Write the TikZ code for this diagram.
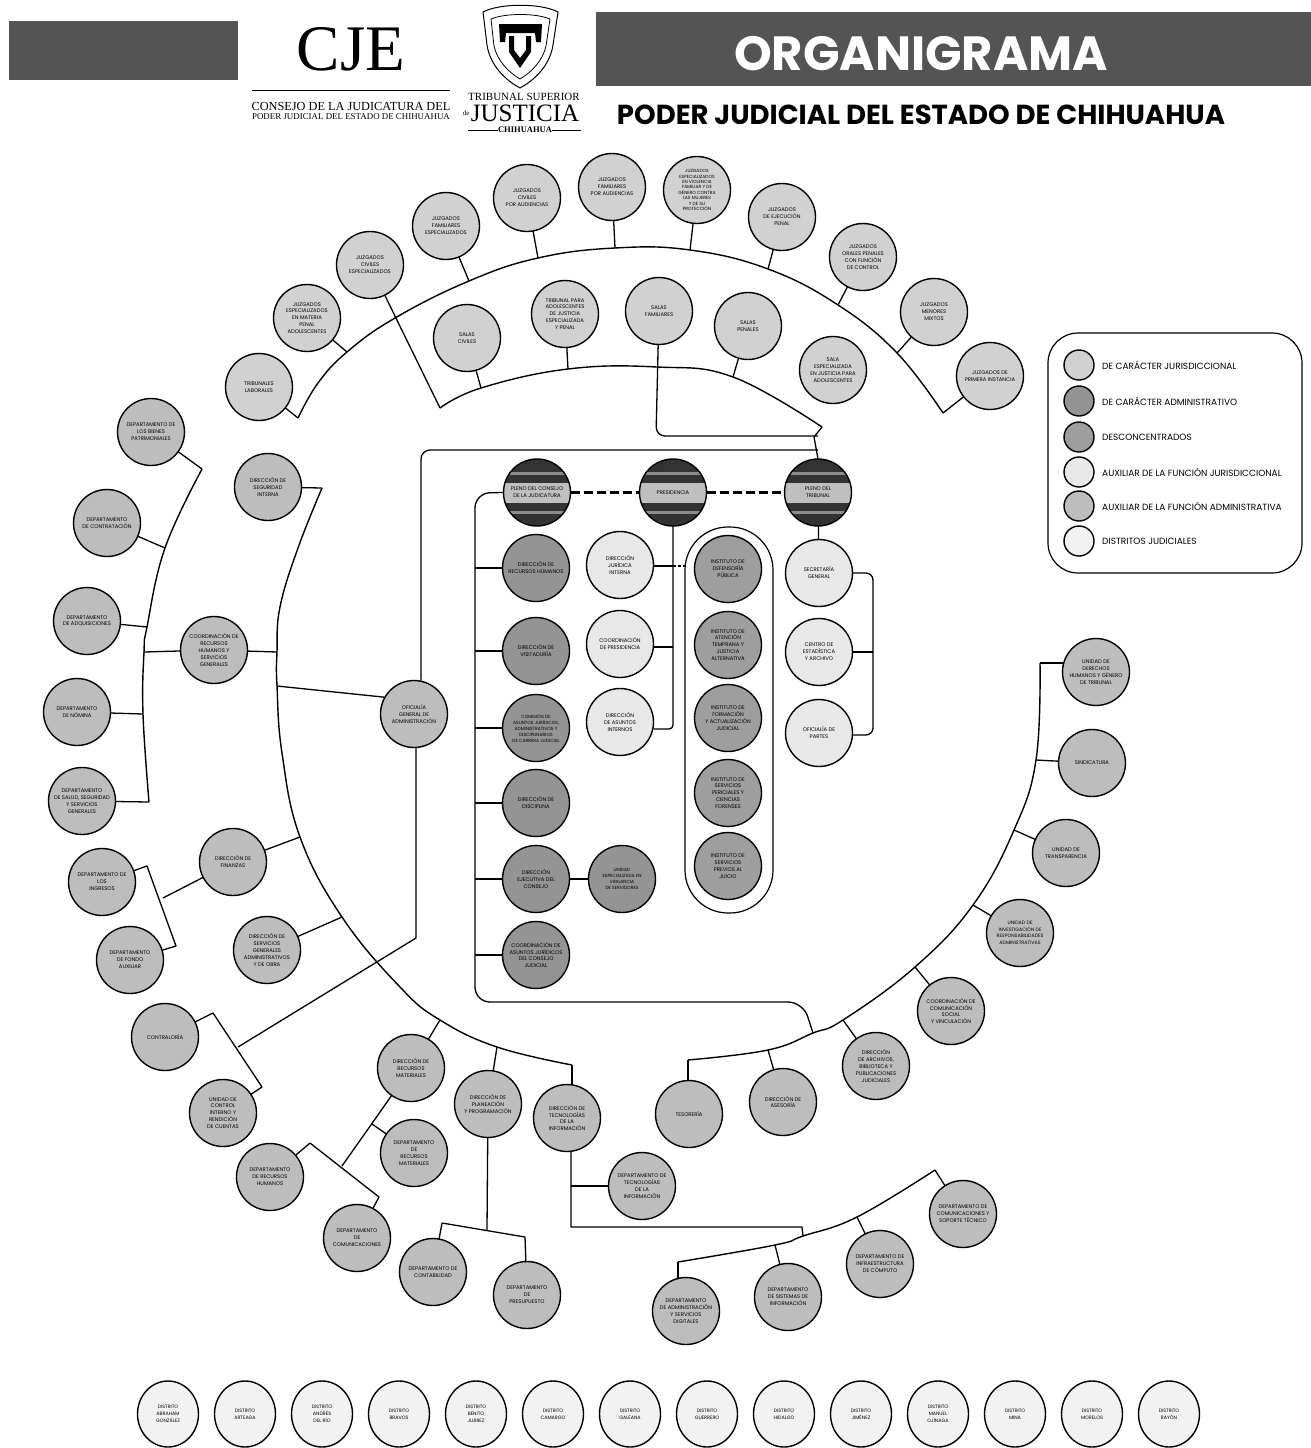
\documentclass[tikz,border=0pt]{standalone}
\usepackage{fontspec}
\setmainfont{Poppins}
\newfontfamily\logoserif{Liberation Serif}
\usepackage{tikz}
\usetikzlibrary{positioning, shapes.geometric}
\usepackage{xcolor}
\definecolor{BannerGray}{gray}{0.33}
\definecolor{JurisGray}{gray}{0.82}
\definecolor{AdminGray}{gray}{0.58}
\definecolor{DeconGray}{gray}{0.62}
\definecolor{AuxJurisGray}{gray}{0.91}
\definecolor{AuxAdminGray}{gray}{0.74}
\definecolor{DistritoGray}{gray}{0.95}
\definecolor{HeadDark}{gray}{0.2}
\tikzset{%
  org_circle/.style={%
    circle,%
    draw=black,%
    line width=1.4pt,%
    minimum size=67pt,%
    inner sep=0pt,%
    outer sep=0pt,%
    font={\fontsize{5.3}{6.9}\selectfont},%
    align=center,%
  },
  juris/.style={org_circle, fill=JurisGray},
  admin/.style={org_circle, fill=AdminGray},
  decon/.style={org_circle, fill=DeconGray},
  aux_juris/.style={org_circle, fill=AuxJurisGray},
  aux_admin/.style={org_circle, fill=AuxAdminGray},
  distrito/.style={%
    org_circle,%
    ellipse,%
    fill=DistritoGray,%
    minimum width=61pt,%
    minimum height=66pt,%
    font={\fontsize{4.8}{7}\selectfont},%
  },
  head/.style={%
    org_circle,%
    fill=HeadDark,%
    path picture={%
      \fill [white!75!black] (path picture bounding box.west) ++(0,10) rectangle ++(67,-20);
      \fill [white!55!black] (path picture bounding box.west) ++(0,21) rectangle ++(67,-3);
      \fill [white!55!black] (path picture bounding box.west) ++(0,-18) rectangle ++(67,-3);
    },%
  },
  legend_dot/.style={org_circle, minimum size=30pt},
  legend_text/.style={font={\fontsize{9}{10}\selectfont}, anchor=west, inner sep=0pt},
  org_path/.style={%
    color=black,%
    line join=round,%
    line width=1.3pt,%
  },
  org_bus/.style={org_path, line width=1.4pt},
  org_round/.style={org_path, rounded corners=9pt},
}
\begin{document}
\begin{tikzpicture}[x=1pt, y=1pt]
    \useasboundingbox (0,0) rectangle (1311,-1448);

    % header
    \fill [BannerGray] (9,-21) rectangle (238,-80);
    \fill [BannerGray] (596,-12) rectangle (1311,-86);
    \node [inner sep=0pt, text=white, font={\fontsize{48}{50}\selectfont\bfseries}] (Titulo) at (921,-54) {ORGANIGRAMA};
    \node [font={\fontsize{27.5}{30}\selectfont\bfseries}, inner sep=0pt] (Poder) at (921,-115)
      {PODER JUDICIAL DEL ESTADO DE CHIHUAHUA};
    \node [font={\logoserif\fontsize{65}{65}\selectfont}, inner sep=0pt] (CJE) at (351,-49) {CJE};
    \draw [line width=0.6pt] (252,-90) -- (450,-90);
    \node [font={\logoserif\fontsize{12.3}{14}\selectfont}, inner sep=0pt] (CJEa) at (351,-106)
      {CONSEJO DE LA JUDICATURA DEL};
    \node [font={\logoserif\fontsize{8.9}{10}\selectfont}, inner sep=0pt] (CJEb) at (351,-117)
      {PODER JUDICIAL DEL ESTADO DE CHIHUAHUA};
    \node [font={\logoserif\fontsize{11}{12}\selectfont}, inner sep=0pt] (TSJa) at (524,-97)
      {TRIBUNAL SUPERIOR};
    \node [font={\logoserif\fontsize{25}{26}\selectfont}, inner sep=0pt] (TSJb) at (525,-113) {JUSTICIA};
    \node [font={\logoserif\fontsize{7}{8}\selectfont}, inner sep=0pt, left=1 of TSJb] (TSJde) {de};
    \node [font={\logoserif\bfseries\fontsize{8.5}{9}\selectfont}, inner sep=0pt] (TSJc) at (525,-130) {CHIHUAHUA};
    \draw [line width=0.7pt] (468,-130) -- (TSJc.west);
    \draw [line width=0.7pt] (TSJc.east) -- (581,-130);

    % shield
    \draw [line width=1pt, fill=white]
      (483,-12) .. controls (500,-3) and (541,-3) .. (558,-12)
      -- (553,-45) .. controls (550,-65) and (535,-80) .. (520,-88)
      .. controls (505,-80) and (490,-65) .. (487,-45) -- cycle;
    \draw [line width=0.8pt]
      (491,-19) .. controls (505,-13) and (536,-13) .. (550,-19)
      -- (546,-46) .. controls (543,-60) and (532,-72) .. (520,-79)
      .. controls (508,-72) and (497,-60) .. (494,-46) -- cycle;
    \fill (499,-24) -- (542,-24) -- (541,-42) -- (536,-42) -- (535,-33) -- (506,-33) -- (505,-42) -- (500,-42) -- cycle;
    \fill (509,-36) -- (514,-36) -- (514,-50) -- (520,-58) -- (526,-50) -- (526,-36) -- (531,-36) -- (531,-52) -- (520,-68) -- (509,-52) -- cycle;

    % legend
    \draw [line width=1.2pt, rounded corners=30pt, fill=white] (1048,-333) rectangle (1302,-573);
    \node [legend_dot, fill=JurisGray] (LegJuris) at (1079,-365) {};
    \node [legend_text, right=8 of LegJuris] (LegJurisT) {DE CARÁCTER JURISDICCIONAL};
    \node [legend_dot, fill=AdminGray] (LegAdmin) at (1079,-401) {};
    \node [legend_text, right=8 of LegAdmin] (LegAdminT) {DE CARÁCTER ADMINISTRATIVO};
    \node [legend_dot, fill=DeconGray] (LegDecon) at (1079,-437) {};
    \node [legend_text, right=8 of LegDecon] (LegDeconT) {DESCONCENTRADOS};
    \node [legend_dot, fill=AuxJurisGray] (LegAuxJ) at (1079,-472) {};
    \node [legend_text, right=8 of LegAuxJ] (LegAuxJT) {AUXILIAR DE LA FUNCIÓN JURISDICCIONAL};
    \node [legend_dot, fill=AuxAdminGray] (LegAuxA) at (1079,-506) {};
    \node [legend_text, right=8 of LegAuxA] (LegAuxAT) {AUXILIAR DE LA FUNCIÓN ADMINISTRATIVA};
    \node [legend_dot, fill=DistritoGray] (LegDist) at (1079,-541) {};
    \node [legend_text, right=8 of LegDist] (LegDistT) {DISTRITOS JUDICIALES};

    % jurisdictional ring
    \node [juris] (Tribunal) at (259,-387) {TRIBUNALES\\LABORALES};
    \node [juris] (JuzA) at (307,-318) {JUZGADOS\\ESPECIALIZADOS\\EN MATERIA\\PENAL\\ADOLESCENTES};
    \node [juris] (JuzB) at (370,-265) {JUZGADOS\\CIVILES\\ESPECIALIZADOS};
    \node [juris] (JuzC) at (446,-226) {JUZGADOS\\FAMILIARES\\ESPECIALIZADOS};
    \node [juris] (JuzD) at (527,-198) {JUZGADOS\\CIVILES\\POR AUDIENCIAS};
    \node [juris] (JuzE) at (612,-187) {JUZGADOS\\FAMILIARES\\POR AUDIENCIAS};
    \node [juris, font={\fontsize{4.5}{5.4}\selectfont}] (JuzF) at (697,-190)
      {JUZGADOS\\ESPECIALIZADOS\\EN VIOLENCIA\\FAMILIAR Y DE\\GÉNERO CONTRA\\LAS MUJERES\\Y DE SU\\PROTECCIÓN};
    \node [juris] (JuzG) at (782,-217) {JUZGADOS\\DE EJECUCIÓN\\PENAL};
    \node [juris] (JuzH) at (863,-257) {JUZGADOS\\ORALES PENALES\\CON FUNCIÓN\\DE CONTROL};
    \node [juris] (JuzI) at (934,-312) {JUZGADOS\\MENORES\\MIXTOS};
    \node [juris] (JuzJ) at (990,-376) {JUZGADOS DE\\PRIMERA INSTANCIA};
    \node [juris] (SalaA) at (467,-338) {SALAS\\CIVILES};
    \node [juris] (SalaB) at (565,-314) {TRIBUNAL PARA\\ADOLESCENTES\\DE JUSTICIA\\ESPECIALIZADA\\Y PENAL};
    \node [juris] (SalaC) at (659,-311) {SALAS\\FAMILIARES};
    \node [juris] (SalaD) at (748,-326) {SALAS\\PENALES};
    \node [juris] (SalaE) at (833,-370) {SALA\\ESPECIALIZADA\\EN JUSTICIA PARA\\ADOLESCENTES};

    \coordinate (OutEnd) at (298,-418);
    \coordinate (OutMid) at (318,-383);
    \coordinate (OutA) at (347,-352);
    \coordinate (OutCross) at (395,-318);
    \coordinate (OutC) at (469,-281);
    \coordinate (OutD) at (538,-258);
    \coordinate (OutE) at (615,-248);
    \coordinate (OutF) at (690,-250);
    \coordinate (OutG) at (768,-269);
    \coordinate (OutH) at (838,-305);
    \coordinate (OutI) at (897,-353);
    \coordinate (OutJ) at (943,-413);
    \draw [org_bus] plot [smooth, tension=0.7] coordinates
      {(OutEnd) (OutMid) (OutA) (OutCross) (OutC) (OutD) (OutE) (OutF) (OutG) (OutH) (OutI) (OutJ)};
    \draw [org_path] (Tribunal) -- (OutEnd);
    \draw [org_path] (JuzA) -- (OutA);
    \draw [org_path] (JuzC) -- (OutC);
    \draw [org_path] (JuzD) -- (OutD);
    \draw [org_path] (JuzE) -- (OutE);
    \draw [org_path] (JuzF) -- (OutF);
    \draw [org_path] (JuzG) -- (OutG);
    \draw [org_path] (JuzH) -- (OutH);
    \draw [org_path] (JuzI) -- (OutI);
    \draw [org_path] (JuzJ) -- (OutJ);

    \coordinate (InEnd) at (440,-408);
    \coordinate (InA) at (481,-388);
    \coordinate (InB) at (568,-369);
    \coordinate (InC) at (657,-367);
    \coordinate (InD) at (733,-377);
    \coordinate (InTip) at (822,-427);
    \coordinate (InJoin) at (814,-437);
    \draw [org_bus] plot [smooth, tension=0.7] coordinates {(InEnd) (InA) (InB) (InC) (InD) (InTip)};
    \draw [org_path] (InTip) -- (InJoin);
    \draw [org_path] (JuzB) -- (InEnd);
    \draw [org_path] (SalaA) -- (InA);
    \draw [org_path] (SalaB) -- (InB);
    \draw [org_path] (SalaD) -- (InD);

    % central heads
    \node [head] (HeadCJ) at (537,-492.5) {PLENO DEL CONSEJO\\DE LA JUDICATURA};
    \node [head] (HeadPres) at (673,-492.5) {PRESIDENCIA};
    \node [head] (HeadTSJ) at (818,-492.5) {PLENO DEL\\TRIBUNAL};
    \draw [org_path, line width=2.2pt, dash pattern=on 9pt off 4pt] (HeadCJ.east) -- (HeadPres.west);
    \draw [org_path, line width=2.2pt, dash pattern=on 9pt off 4pt] (HeadPres.east) -- (HeadTSJ.west);
    \coordinate (SalaDown) at (656,-436);
    \coordinate (TopJoin) at (818,-436);
    \draw [org_round] (SalaC) -- (SalaDown) -- (TopJoin);
    \draw [org_path] (InJoin) -- (HeadTSJ.north);

    % central columns
    \node [admin] (ColA1) at (536,-568) {DIRECCIÓN DE\\RECURSOS HUMANOS};
    \node [admin, below=16 of ColA1] (ColA2) {DIRECCIÓN DE\\VISITADURÍA};
    \node [admin, below=10 of ColA2, font={\fontsize{4.5}{6}\selectfont}] (ColA3)
      {COMISIÓN DE\\ASUNTOS JURÍDICOS,\\ADMINISTRATIVOS Y\\DISCIPLINARIOS\\DE CARRERA JUDICIAL};
    \node [admin, below=8 of ColA3] (ColA4) {DIRECCIÓN DE\\DISCIPLINA};
    \node [admin, below=9 of ColA4] (ColA5) {DIRECCIÓN\\EJECUTIVA DEL\\CONSEJO};
    \node [admin, below=9 of ColA5] (ColA6) {COORDINACIÓN DE\\ASUNTOS JURÍDICOS\\DEL CONSEJO\\JUDICIAL};
    \node [admin, right=19 of ColA5, font={\fontsize{4.5}{6}\selectfont}] (Unidad)
      {UNIDAD\\ESPECIALIZADA EN\\VIGILANCIA\\DE SERVIDORES};
    \node [aux_juris] (ColB1) at (620,-565) {DIRECCIÓN\\JURÍDICA\\INTERNA};
    \node [aux_juris, below=12 of ColB1] (ColB2) {COORDINACIÓN\\DE PRESIDENCIA};
    \node [aux_juris, below=11 of ColB2] (ColB3) {DIRECCIÓN\\DE ASUNTOS\\INTERNOS};
    \node [decon] (Pill1) at (728,-569) {INSTITUTO DE\\DEFENSORÍA\\PÚBLICA};
    \node [decon, below=9 of Pill1] (Pill2) {INSTITUTO DE\\ATENCIÓN\\TEMPRANA Y\\JUSTICIA\\ALTERNATIVA};
    \node [decon, below=6 of Pill2] (Pill3) {INSTITUTO DE\\FORMACIÓN\\Y ACTUALIZACIÓN\\JUDICIAL};
    \node [decon, below=8 of Pill3] (Pill4) {INSTITUTO DE\\SERVICIOS\\PERICIALES Y\\CIENCIAS\\FORENSES};
    \node [decon, below=6 of Pill4] (Pill5) {INSTITUTO DE\\SERVICIOS\\PREVIOS AL\\JUICIO};
    \draw [line width=1.2pt, rounded corners=43pt] (685,-527) rectangle (773,-913);
    \node [aux_juris] (ColD1) at (819,-573) {SECRETARÍA\\GENERAL};
    \node [aux_juris, below=12 of ColD1] (ColD2) {CENTRO DE\\ESTADÍSTICA\\Y ARCHIVO};
    \node [aux_juris, below=14 of ColD2] (ColD3) {OFICIALÍA DE\\PARTES};

    \coordinate (RailTop) at (475,-493);
    \coordinate (RailBottom) at (475,-1002);
    \coordinate (RailRight) at (803,-1002);
    \coordinate (BusRail) at (813,-1033);
    \draw [org_path, rounded corners=15pt] (HeadCJ.west) -- (RailTop) -- (RailBottom) -- (RailRight) -- (BusRail);
    \draw [org_path] (ColA1) -- (ColA1 -| RailTop);
    \draw [org_path] (ColA2) -- (ColA2 -| RailTop);
    \draw [org_path] (ColA3) -- (ColA3 -| RailTop);
    \draw [org_path] (ColA4) -- (ColA4 -| RailTop);
    \draw [org_path] (ColA5) -- (ColA5 -| RailTop);
    \draw [org_path] (ColA6) -- (ColA6 -| RailTop);
    \draw [org_path] (ColA5) -- (Unidad);

    \coordinate (PresDown) at (673,-729);
    \draw [org_path, rounded corners=4pt] (HeadPres) -- (PresDown) -- (ColB3.east |- PresDown);
    \coordinate (PresB1) at (673,-566);
    \coordinate (PresB2) at (673,-647);
    \coordinate (PillEdge) at (685,-566);
    \draw [org_path] (ColB1.east |- PresB1) -- (PresB1);
    \draw [org_path, dash pattern=on 3pt off 2pt] (PresB1) -- (PillEdge);
    \draw [org_path] (ColB2.east |- PresB2) -- (PresB2);

    \coordinate (TsjRailTop) at (873,-573);
    \coordinate (TsjRailBottom) at (873,-735);
    \draw [org_path] (HeadTSJ) -- (ColD1);
    \draw [org_path, rounded corners=7pt] (ColD1.east) -- (TsjRailTop) -- (TsjRailBottom) -- (ColD3.east |- TsjRailBottom);
    \draw [org_path] (ColD2.east) -- (ColD2 -| TsjRailTop);

    % general office
    \node [aux_admin] (Oficialia) at (414,-714) {OFICIALÍA\\GENERAL DE\\ADMINISTRACIÓN};
    \coordinate (OfUpA) at (421,-450);
    \coordinate (OfUpB) at (818,-450);
    \draw [org_round] (OfUpA |- Oficialia.north) -- (OfUpA) -- (OfUpB);
    \coordinate (OfDown) at (416,-938);
    \coordinate (DiagEnd) at (238,-1047);
    \draw [org_path] (OfDown |- Oficialia.south) -- (OfDown) -- (DiagEnd);

    % left arc
    \coordinate (ArcTick) at (322,-488);
    \coordinate (ArcAa) at (298,-548);
    \coordinate (ArcA) at (280,-607);
    \coordinate (ArcB) at (277,-652);
    \coordinate (ArcC) at (277,-686);
    \coordinate (ArcD) at (282,-753);
    \coordinate (ArcE) at (300,-837);
    \coordinate (ArcF) at (342,-917);
    \coordinate (ArcG) at (400,-987);
    \coordinate (ArcH) at (440,-1020);
    \coordinate (ArcI) at (497,-1047);
    \coordinate (ArcJ) at (572,-1065);
    \draw [org_bus] plot [smooth, tension=0.7] coordinates
      {(ArcTick) (ArcAa) (ArcA) (ArcB) (ArcC) (ArcD) (ArcE) (ArcF) (ArcG) (ArcH) (ArcI) (ArcJ)};
    \draw [org_path] (ArcC) -- (Oficialia.150);

    \node [aux_admin] (Interna) at (268,-487) {DIRECCIÓN DE\\SEGURIDAD\\INTERNA};
    \node [aux_admin] (Depto) at (214,-650) {COORDINACIÓN DE\\RECURSOS\\HUMANOS Y\\SERVICIOS\\GENERALES};
    \node [aux_admin] (LeftA) at (151,-432) {DEPARTAMENTO DE\\LOS BIENES\\PATRIMONIALES};
    \node [aux_admin] (LeftB) at (107,-523) {DEPARTAMENTO\\DE CONTRATACIÓN};
    \node [aux_admin] (LeftC) at (87,-621) {DEPARTAMENTO\\DE ADQUISICIONES};
    \node [aux_admin] (LeftD) at (77,-712) {DEPARTAMENTO\\DE NÓMINA};
    \node [aux_admin] (LeftE) at (82,-801) {DEPARTAMENTO\\DE SALUD, SEGURIDAD\\Y SERVICIOS\\GENERALES};
    \draw [org_path] (Interna) -- (ArcTick);
    \draw [org_path] (Depto) -- (ArcB);

    \coordinate (SubTop) at (202,-469);
    \coordinate (SubB) at (165,-548);
    \coordinate (SubC) at (147,-627);
    \coordinate (SubMid) at (144,-652);
    \coordinate (SubD) at (143,-714);
    \coordinate (SubE) at (149,-802);
    \draw [org_bus] plot [smooth, tension=0.7] coordinates {(SubTop) (SubB) (SubC) (SubMid) (SubD) (SubE)};
    \draw [org_path] (LeftA) -- (SubTop);
    \draw [org_path] (LeftB) -- (SubB);
    \draw [org_path] (LeftC) -- (SubC);
    \draw [org_path] (LeftD) -- (SubD);
    \draw [org_path] (LeftE) -- (SubE);
    \draw [org_path] (Depto) -- (SubMid);

    \node [aux_admin] (Finanzas) at (233,-862) {DIRECCIÓN DE\\FINANZAS};
    \node [aux_admin] (FinA) at (102,-882) {DEPARTAMENTO DE\\LOS\\INGRESOS};
    \node [aux_admin] (FinB) at (130,-960) {DEPARTAMENTO\\DE FONDO\\AUXILIAR};
    \node [aux_admin] (Servicios) at (267,-950) {DIRECCIÓN DE\\SERVICIOS\\GENERALES\\ADMINISTRATIVOS\\Y DE OBRA};
    \node [aux_admin] (Contraloria) at (165,-1037) {CONTRALORÍA};
    \node [aux_admin] (Unidades) at (223,-1113) {UNIDAD DE\\CONTROL\\INTERNO Y\\RENDICIÓN\\DE CUENTAS};
    \coordinate (FinTop) at (147,-866);
    \coordinate (FinMid) at (163,-898);
    \coordinate (FinBot) at (176,-946);
    \draw [org_path] (Finanzas) -- (ArcE);
    \draw [org_path] (Servicios) -- (ArcF);
    \draw [org_path] (Finanzas) -- (FinMid);
    \draw [org_path] (FinA) -- (FinTop) -- (FinBot) -- (FinB);
    \coordinate (ConTop) at (213,-1013);
    \coordinate (ConBot) at (262,-1087);
    \draw [org_path] (Contraloria) -- (ConTop) -- (ConBot) -- (Unidades);

    % lower fan
    \node [aux_admin] (Tesoreria) at (411,-1068) {DIRECCIÓN DE\\RECURSOS\\MATERIALES};
    \node [aux_admin] (Personal) at (414,-1153) {DEPARTAMENTO\\DE\\RECURSOS\\MATERIALES};
    \node [aux_admin] (Compras) at (270,-1177) {DEPARTAMENTO\\DE RECURSOS\\HUMANOS};
    \node [aux_admin] (Archivo) at (357,-1238) {DEPARTAMENTO\\DE\\COMUNICACIONES};
    \node [aux_admin] (Planeacion) at (488,-1104) {DIRECCIÓN DE\\PLANEACIÓN\\Y PROGRAMACIÓN};
    \node [aux_admin] (PlanA) at (433,-1272) {DEPARTAMENTO DE\\CONTABILIDAD};
    \node [aux_admin] (PlanB) at (527,-1295) {DEPARTAMENTO\\DE\\PRESUPUESTO};
    \node [aux_admin] (Tecnologia) at (567,-1118) {DIRECCIÓN DE\\TECNOLOGÍAS\\DE LA\\INFORMACIÓN};
    \node [aux_admin] (TecA) at (642,-1186) {DEPARTAMENTO DE\\TECNOLOGÍAS\\DE LA\\INFORMACIÓN};
    \draw [org_path] (Tesoreria) -- (ArcH);
    \draw [org_path] (Planeacion) -- (ArcI);
    \draw [org_path] (ArcJ |- Tecnologia.north) -- (ArcJ);
    \coordinate (TesoBranch) at (342,-1166);
    \coordinate (TesoMid) at (372,-1124);
    \draw [org_path] (Tesoreria) -- (TesoBranch);
    \draw [org_path] (TesoMid) -- (Personal);
    \coordinate (ComTop) at (310,-1143);
    \coordinate (ComBot) at (379,-1197);
    \draw [org_path] (Compras) -- (ComTop) -- (ComBot) -- (Archivo);
    \coordinate (PlanMid) at (487,-1230);
    \coordinate (PlanLeft) at (442,-1223);
    \coordinate (PlanRight) at (525,-1237);
    \draw [org_path] (Planeacion) -- (PlanMid);
    \draw [org_path] (PlanA) -- (PlanLeft) -- (PlanRight) -- (PlanB);
    \coordinate (TecElbow) at (571,-1227);
    \coordinate (TecRight) at (802,-1227);
    \coordinate (LowD) at (803,-1236);
    \draw [org_path] (TecElbow |- Tecnologia.south) -- (TecElbow) -- (TecRight) -- (LowD);
    \draw [org_path] (TecA) -- (TecA -| TecElbow);

    % right arc
    \node [aux_admin] (RightA) at (1096,-672) {UNIDAD DE\\DERECHOS\\HUMANOS Y GÉNERO\\DE TRIBUNAL};
    \node [aux_admin] (RightB) at (1092,-763) {SINDICATURA};
    \node [aux_admin] (RightC) at (1066,-853) {UNIDAD DE\\TRANSPARENCIA};
    \node [aux_admin, font={\fontsize{4.8}{6.6}\selectfont}] (RightD) at (1020,-933) {UNIDAD DE\\INVESTIGACIÓN DE\\RESPONSABILIDADES\\ADMINISTRATIVAS};
    \node [aux_admin] (RightE) at (951,-1011) {COORDINACIÓN DE\\COMUNICACIÓN\\SOCIAL\\Y VINCULACIÓN};
    \node [aux_admin] (RightF) at (876,-1066) {DIRECCIÓN\\DE ARCHIVOS,\\BIBLIOTECA Y\\PUBLICACIONES\\JUDICIALES};
    \node [aux_admin] (RightG) at (783,-1102) {DIRECCIÓN DE\\ASESORÍA};
    \node [aux_admin] (RightH) at (689,-1114) {TESORERÍA};
    \coordinate (RtA) at (1040,-663);
    \coordinate (RtB) at (1036,-760);
    \coordinate (RtC) at (1014,-830);
    \coordinate (RtD) at (973,-905);
    \coordinate (RtE) at (915,-967);
    \coordinate (RtF) at (843,-1020);
    \coordinate (RtG) at (768,-1050);
    \coordinate (RtH) at (688,-1060);
    \draw [org_bus] plot [smooth, tension=0.7] coordinates
      {(RtA) (RtB) (RtC) (RtD) (RtE) (RtF) (BusRail) (RtG) (RtH)};
    \draw [org_path] (RightA.west |- RtA) ++(1,0) -- (RtA);
    \draw [org_path] (RightB) -- (RtB);
    \draw [org_path] (RightC) -- (RtC);
    \draw [org_path] (RightD) -- (RtD);
    \draw [org_path] (RightE) -- (RtE);
    \draw [org_path] (RightF) -- (RtF);
    \draw [org_path] (RightG) -- (RtG);
    \draw [org_path] (RtH |- RightH.north) -- (RtH);

    % lower right arc
    \node [aux_admin] (LowA) at (686,-1311) {DEPARTAMENTO\\DE ADMINISTRACIÓN\\Y SERVICIOS\\DIGITALES};
    \node [aux_admin] (LowB) at (788,-1297) {DEPARTAMENTO\\DE SISTEMAS DE\\INFORMACIÓN};
    \node [aux_admin] (LowC) at (880,-1264) {DEPARTAMENTO DE\\INFRAESTRUCTURA\\DE CÓMPUTO};
    \node [aux_admin] (LowE) at (963,-1214) {DEPARTAMENTO DE\\COMUNICACIONES Y\\SOPORTE TÉCNICO};
    \coordinate (LwA) at (678,-1262);
    \coordinate (LwB) at (775,-1245);
    \coordinate (LwC) at (857,-1217);
    \coordinate (LwE) at (935,-1170);
    \draw [org_bus] plot [smooth, tension=0.7] coordinates {(LwA) (LwB) (LowD) (LwC) (LwE)};
    \draw [org_path] (LwA |- LowA.north) -- (LwA);
    \draw [org_path] (LowB) -- (LwB);
    \draw [org_path] (LowC) -- (LwC);
    \draw [org_path] (LowE) -- (LwE);

    % judicial districts
    \node [distrito] (Dist1) at (168,-1414) {DISTRITO\\ABRAHAM\\GONZÁLEZ};
    \node [distrito, right=16 of Dist1] (Dist2) {DISTRITO\\ARTEAGA};
    \node [distrito, right=16 of Dist2] (Dist3) {DISTRITO\\ANDRÉS\\DEL RÍO};
    \node [distrito, right=16 of Dist3] (Dist4) {DISTRITO\\BRAVOS};
    \node [distrito, right=16 of Dist4] (Dist5) {DISTRITO\\BENITO\\JUÁREZ};
    \node [distrito, right=16 of Dist5] (Dist6) {DISTRITO\\CAMARGO};
    \node [distrito, right=16 of Dist6] (Dist7) {DISTRITO\\GALEANA};
    \node [distrito, right=16 of Dist7] (Dist8) {DISTRITO\\GUERRERO};
    \node [distrito, right=16 of Dist8] (Dist9) {DISTRITO\\HIDALGO};
    \node [distrito, right=16 of Dist9] (Dist10) {DISTRITO\\JIMÉNEZ};
    \node [distrito, right=16 of Dist10] (Dist11) {DISTRITO\\MANUEL\\OJINAGA};
    \node [distrito, right=16 of Dist11] (Dist12) {DISTRITO\\MINA};
    \node [distrito, right=16 of Dist12] (Dist13) {DISTRITO\\MORELOS};
    \node [distrito, right=16 of Dist13] (Dist14) {DISTRITO\\RAYÓN};
\end{tikzpicture}
\end{document}
